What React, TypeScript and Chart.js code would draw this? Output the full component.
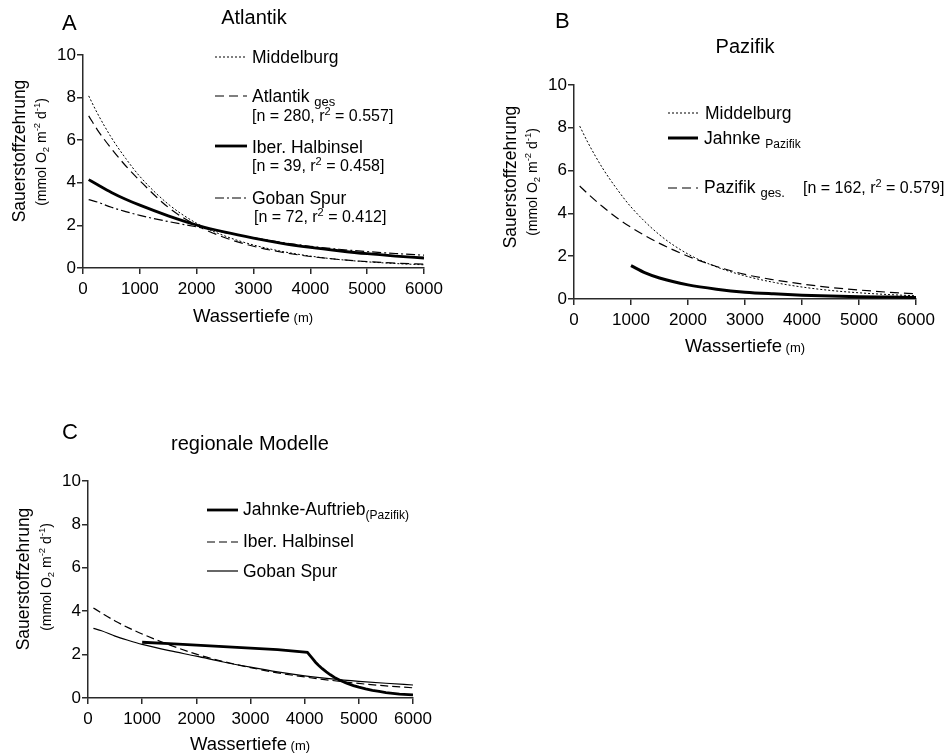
import React, { useEffect, useRef } from 'react';
import { Chart, registerables } from 'chart.js';

Chart.register(...registerables);

const FONT = '"Liberation Sans", Arial, Helvetica, sans-serif';

// ---------- data ----------
const X_MIN = 0;
const X_MAX = 6000;
const X_STEP = 1000;
const Y_MIN = 0;
const Y_MAX = 10;
const Y_STEP = 2;

const DEPTH = [100, 250, 500, 750, 1000, 1500, 2000, 2500, 3000, 3500, 4000, 4500, 5000, 5500, 6000];
const MIDDELBURG = [8.08, 7.28, 6.12, 5.15, 4.3, 3.0, 2.1, 1.5, 1.08, 0.78, 0.56, 0.4, 0.29, 0.21, 0.15];
const ATLANTIK_GES = [7.14, 6.5, 5.6, 4.8, 4.1, 2.85, 2.0, 1.42, 1.02, 0.74, 0.54, 0.4, 0.3, 0.23, 0.18];
const IBER_HALBINSEL = [4.15, 3.92, 3.55, 3.23, 2.95, 2.45, 2.02, 1.68, 1.4, 1.16, 0.97, 0.81, 0.67, 0.56, 0.47];
const GOBAN_SPUR = [3.21, 3.1, 2.85, 2.65, 2.47, 2.18, 1.93, 1.66, 1.42, 1.2, 1.02, 0.88, 0.77, 0.68, 0.6];
const PAZIFIK_GES = [5.28, 4.9, 4.32, 3.8, 3.35, 2.6, 2.0, 1.52, 1.15, 0.9, 0.7, 0.54, 0.42, 0.32, 0.24];

const JAHNKE_PAZ_DEPTH = [1000, 1250, 1500, 2000, 2500, 3000, 3500, 4000, 4500, 5000, 5500, 6000];
const JAHNKE_PAZIFIK = [1.56, 1.22, 0.98, 0.66, 0.46, 0.32, 0.24, 0.18, 0.14, 0.11, 0.09, 0.07];

const JAHNKE_AUF_DEPTH = [1000, 1500, 2000, 2500, 3000, 3500, 4050, 4100, 4150, 4200, 4250, 4325, 4400, 4475, 4550, 4650, 4775, 4900, 5000, 5125, 5250, 5375, 5500, 5750, 6000];
const JAHNKE_AUFTRIEB = [2.57, 2.51, 2.44, 2.37, 2.3, 2.23, 2.1, 1.95, 1.8, 1.65, 1.52, 1.35, 1.2, 1.07, 0.95, 0.82, 0.68, 0.57, 0.5, 0.42, 0.35, 0.3, 0.25, 0.18, 0.14];

// ---------- helpers ----------
type Seg = [string, number, number?];

function rich(ctx: CanvasRenderingContext2D, segs: Seg[], x: number, y: number, align: 'left' | 'center' = 'left') {
  ctx.save();
  ctx.fillStyle = '#000';
  ctx.textAlign = 'left';
  ctx.textBaseline = 'alphabetic';
  let w = 0;
  for (const [t, s] of segs) {
    ctx.font = `${s}px ${FONT}`;
    w += ctx.measureText(t).width;
  }
  let cx = align === 'center' ? x - w / 2 : x;
  for (const [t, s, dy] of segs) {
    ctx.font = `${s}px ${FONT}`;
    ctx.fillText(t, cx, y + (dy || 0));
    cx += ctx.measureText(t).width;
  }
  ctx.restore();
}

function rotated(ctx: CanvasRenderingContext2D, segs: Seg[], bx: number, cy: number) {
  ctx.save();
  ctx.translate(bx, cy);
  ctx.rotate(-Math.PI / 2);
  rich(ctx, segs, 0, 0, 'center');
  ctx.restore();
}

function sample(ctx: CanvasRenderingContext2D, x1: number, x2: number, y: number, dash: number[], width: number) {
  ctx.save();
  ctx.strokeStyle = '#000';
  ctx.lineWidth = width;
  ctx.setLineDash(dash);
  ctx.beginPath();
  ctx.moveTo(x1, y);
  ctx.lineTo(x2, y);
  ctx.stroke();
  ctx.restore();
}

const NAME = 17.5;
const NOTE = 16;
const SUB = 13;
const SUP = 11;
const TITLE = 20;
const LETTER = 22;

const Y_TITLE_1: Seg[] = [['Sauerstoffzehrung', 17.5]];
const Y_TITLE_2: Seg[] = [
  ['(mmol O', 14], ['2', 9.5, 3], [' m', 14], ['-2', 9.5, -6], [' d', 14], ['-1', 9.5, -6], [')', 14],
];
const X_TITLE: Seg[] = [['Wassertiefe', 18.5], [' (m)', 13]];

const DOT = [2, 2];
const DASH = [9, 5];
const DASHDOT = [9, 3, 2, 3];
const SOLID: number[] = [];

interface Series { label: string; x: number[]; y: number[]; dash: number[]; width: number; smooth?: boolean; }
interface Panel {
  area: { left: number; top: number; right: number; bottom: number };
  series: Series[];
  draw: (ctx: CanvasRenderingContext2D) => void;
}

const PANELS: Panel[] = [
  {
    area: { left: 83, top: 55, right: 424, bottom: 268 },
    series: [
      { label: 'Middelburg', x: DEPTH, y: MIDDELBURG, dash: DOT, width: 1, smooth: true },
      { label: 'Atlantik ges', x: DEPTH, y: ATLANTIK_GES, dash: DASH, width: 1.2, smooth: true },
      { label: 'Iber. Halbinsel', x: DEPTH, y: IBER_HALBINSEL, dash: SOLID, width: 2.8, smooth: true },
      { label: 'Goban Spur', x: DEPTH, y: GOBAN_SPUR, dash: DASHDOT, width: 1.2, smooth: true },
    ],
    draw(ctx) {
      rich(ctx, [['A', LETTER]], 62, 30);
      rich(ctx, [['Atlantik', TITLE]], 254, 24, 'center');
      sample(ctx, 215, 247, 57, DOT, 1);
      rich(ctx, [['Middelburg', NAME]], 252, 63);
      sample(ctx, 215, 247, 96, DASH, 1.2);
      rich(ctx, [['Atlantik ', NAME], ['ges', SUB, 4]], 252, 102);
      rich(ctx, [['[n = 280, r', NOTE], ['2', SUP, -6], [' = 0.557]', NOTE]], 252, 121);
      sample(ctx, 215, 247, 146, SOLID, 2.8);
      rich(ctx, [['Iber. Halbinsel', NAME]], 252, 153);
      rich(ctx, [['[n = 39, r', NOTE], ['2', SUP, -6], [' = 0.458]', NOTE]], 252, 171);
      sample(ctx, 215, 247, 198, DASHDOT, 1.2);
      rich(ctx, [['Goban Spur', NAME]], 252, 204);
      rich(ctx, [['[n = 72, r', NOTE], ['2', SUP, -6], [' = 0.412]', NOTE]], 254, 222);
      rotated(ctx, Y_TITLE_1, 25, 151);
      rotated(ctx, Y_TITLE_2, 46, 152);
      rich(ctx, X_TITLE, 253, 322, 'center');
    },
  },
  {
    area: { left: 574, top: 85, right: 916, bottom: 299 },
    series: [
      { label: 'Middelburg', x: DEPTH, y: MIDDELBURG, dash: DOT, width: 1, smooth: true },
      { label: 'Jahnke Pazifik', x: JAHNKE_PAZ_DEPTH, y: JAHNKE_PAZIFIK, dash: SOLID, width: 3, smooth: true },
      { label: 'Pazifik ges.', x: DEPTH, y: PAZIFIK_GES, dash: DASH, width: 1.2, smooth: true },
    ],
    draw(ctx) {
      rich(ctx, [['B', LETTER]], 555, 28);
      rich(ctx, [['Pazifik', TITLE]], 745, 53, 'center');
      sample(ctx, 668, 698, 113, DOT, 1);
      rich(ctx, [['Middelburg', NAME]], 705, 119);
      sample(ctx, 668, 698, 138, SOLID, 3);
      rich(ctx, [['Jahnke ', NAME], ['Pazifik', 12, 4]], 704, 144);
      sample(ctx, 668, 698, 188, DASH, 1.2);
      rich(ctx, [['Pazifik ', NAME], ['ges.', SUB, 4]], 704, 193);
      rich(ctx, [['[n = 162, r', NOTE], ['2', SUP, -6], [' = 0.579]', NOTE]], 803, 193);
      rotated(ctx, Y_TITLE_1, 516, 177);
      rotated(ctx, Y_TITLE_2, 537, 182);
      rich(ctx, X_TITLE, 745, 352, 'center');
    },
  },
  {
    area: { left: 88, top: 481, right: 413, bottom: 698 },
    series: [
      { label: 'Jahnke-Auftrieb(Pazifik)', x: JAHNKE_AUF_DEPTH, y: JAHNKE_AUFTRIEB, dash: SOLID, width: 2.8, smooth: false },
      { label: 'Iber. Halbinsel', x: DEPTH, y: IBER_HALBINSEL, dash: [8, 4], width: 1.2, smooth: true },
      { label: 'Goban Spur', x: DEPTH, y: GOBAN_SPUR, dash: SOLID, width: 1.2, smooth: true },
    ],
    draw(ctx) {
      rich(ctx, [['C', LETTER]], 62, 439);
      rich(ctx, [['regionale Modelle', TITLE]], 250, 450, 'center');
      sample(ctx, 207, 238, 510, SOLID, 2.8);
      rich(ctx, [['Jahnke-Auftrieb', NAME], ['(Pazifik)', 12, 4]], 243, 515);
      sample(ctx, 207, 238, 542, [8, 4], 1.2);
      rich(ctx, [['Iber. Halbinsel', NAME]], 243, 547);
      sample(ctx, 207, 238, 571, SOLID, 1.2);
      rich(ctx, [['Goban Spur', NAME]], 243, 577);
      rotated(ctx, Y_TITLE_1, 29, 579);
      rotated(ctx, Y_TITLE_2, 51, 577);
      rich(ctx, X_TITLE, 250, 750, 'center');
    },
  },
];

const W = 945;
const H = 756;
const Y_AXIS_W = 30;
const X_AXIS_H = 40;

function buildConfig(p: Panel): any {
  const axisColor = '#2a2a2a';
  return {
    type: 'line',
    data: {
      datasets: p.series.map((s) => ({
        label: s.label,
        data: s.x.map((x, i) => ({ x, y: s.y[i] })),
        borderColor: '#000',
        borderWidth: s.width,
        borderDash: s.dash,
        pointRadius: 0,
        fill: false,
        tension: 0,
        cubicInterpolationMode: s.smooth ? 'monotone' : 'default',
      })),
    },
    options: {
      animation: false,
      responsive: false,
      devicePixelRatio: 1,
      events: [],
      layout: {
        padding: {
          left: p.area.left - Y_AXIS_W,
          top: p.area.top,
          right: W - p.area.right,
          bottom: H - p.area.bottom - X_AXIS_H,
        },
      },
      plugins: { legend: { display: false }, title: { display: false }, tooltip: { enabled: false } },
      scales: {
        x: {
          type: 'linear',
          min: X_MIN,
          max: X_MAX,
          afterFit: (scale: any) => { scale.height = X_AXIS_H; },
          ticks: {
            stepSize: X_STEP, color: '#000', font: { family: FONT, size: 17 }, padding: 5, maxRotation: 0, autoSkip: false,
            callback: (v: any) => String(v),
          },
          grid: { drawOnChartArea: false, drawTicks: true, tickLength: 6, color: axisColor, lineWidth: 1.5 },
          border: { display: true, color: axisColor, width: 1.5 },
        },
        y: {
          type: 'linear',
          min: Y_MIN,
          max: Y_MAX,
          afterFit: (scale: any) => { scale.width = Y_AXIS_W; },
          ticks: { stepSize: Y_STEP, color: '#000', font: { family: FONT, size: 17 }, padding: 1, callback: (v: any) => String(v) },
          grid: { drawOnChartArea: false, drawTicks: true, tickLength: 6, color: axisColor, lineWidth: 1.5 },
          border: { display: true, color: axisColor, width: 1.5 },
        },
      },
    },
    plugins: [
      {
        id: 'panelText',
        afterDraw(chart: any) {
          p.draw(chart.ctx);
        },
      },
    ],
  };
}

export default function App() {
  const refs = [useRef<HTMLCanvasElement>(null), useRef<HTMLCanvasElement>(null), useRef<HTMLCanvasElement>(null)];
  useEffect(() => {
    const charts = PANELS.map((p, i) => new Chart(refs[i].current as HTMLCanvasElement, buildConfig(p)));
    return () => charts.forEach((c) => c.destroy());
  }, []);
  return (
    <div style={{ position: 'absolute', left: 0, top: 0, width: W, height: H, background: '#fff', overflow: 'hidden' }}>
      {refs.map((r, i) => (
        <canvas key={i} ref={r} width={W} height={H} style={{ position: 'absolute', left: 0, top: 0, width: W, height: H }} />
      ))}
    </div>
  );
}
